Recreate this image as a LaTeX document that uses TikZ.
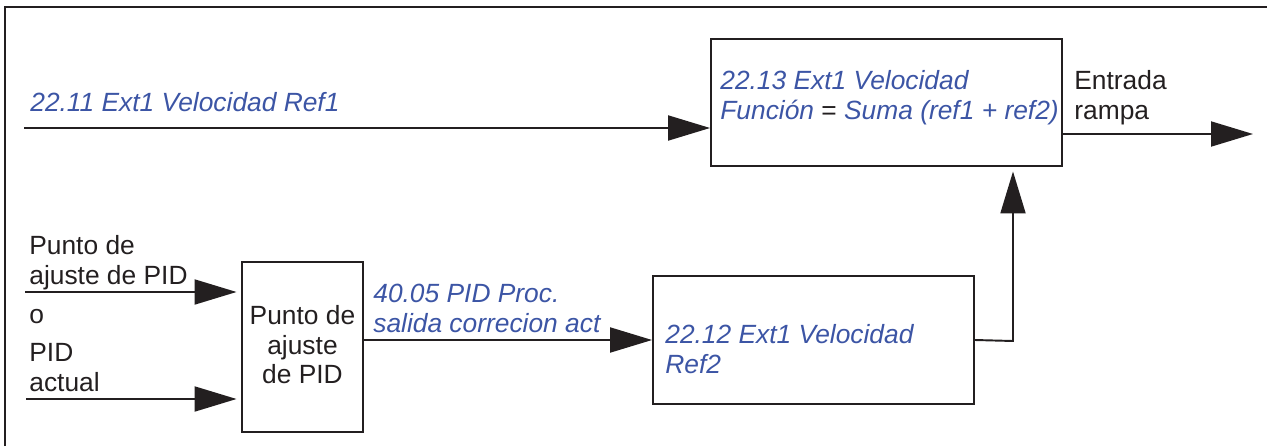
\documentclass[tikz,border=0pt]{standalone}
\usepackage{fontspec}
\setmainfont{Liberation Sans}
\usepackage{xcolor}
\usetikzlibrary{arrows.meta,positioning,calc}
\definecolor{parblue}{HTML}{3C55A5}
\definecolor{inkblack}{HTML}{231F20}

\begin{document}
\begin{tikzpicture}[x=0.02cm,y=-0.02cm,
  font=\fontsize{15}{16.9}\selectfont,
  box/.style={draw=inkblack,line width=1.1pt,inner sep=0pt,align=center,text=inkblack},
  lab/.style={anchor=base west,inner sep=0pt,align=left,text=inkblack},
  prm/.style={lab,text=parblue,font=\fontsize{15}{16.9}\selectfont\itshape},
  wire/.style={draw=inkblack,line width=1.1pt},
  gap/.style={shorten >=0.09cm},
  >={Triangle[length=0.84cm,width=0.5cm]}]
  \useasboundingbox (0,0) rectangle (1267,446);
  \draw[wire] (5,446) -- (5,7) -- (1267,7);
  % summing block, top right
  \node[box,minimum width=7.02cm,minimum height=2.54cm] (sum) at (886.5,102.5) {};
  \node[prm] (sumtxt) at (720,119) {22.13 Ext1 Velocidad\\Función {\upshape\textcolor{inkblack}{=}} Suma (ref1 + ref2)};
  \node[prm] (ref1) at (30,112) {22.11 Ext1 Velocidad Ref1};
  \coordinate (ref1in) at (24,128);
  \draw[wire,->] (ref1in) -- (ref1in -| sum.west);
  \node[lab] (rampa) at (1074,119) {Entrada\\rampa};
  \coordinate (rampaout) at (1253,134);
  \draw[wire,->] (rampaout -| sum.east) -- (rampaout);
  % PID branch
  \node[box,minimum width=2.42cm,minimum height=3.4cm,text depth=0.1cm] (pid) at (302.5,347) {Punto de\\ajuste\\de PID};
  \node[lab] (setp) at (29,284) {Punto de\\ajuste de PID};
  \node[lab] (orlab) at (29,323) {o};
  \node[lab] (actl) at (29,391) {PID\\actual};
  \coordinate (setpin) at (25,292);
  \coordinate (actin) at (26,399);
  \draw[wire,->,gap] (setpin) -- (setpin -| pid.west);
  \draw[wire,->,gap] (actin) -- (actin -| pid.west);
  \node[box,minimum width=6.42cm,minimum height=2.56cm] (ref2) at (813.5,340) {};
  \node[prm] (ref2txt) at (665,373) {22.12 Ext1 Velocidad\\Ref2};
  \node[prm] (pidout) at (373,332) {40.05 PID Proc.\\salida correcion act};
  \draw[wire,->] (pid.east |- ref2.west) -- (ref2.west);
  \coordinate (bend) at (1013,341);
  \draw[wire,->,gap] (ref2.east) -- (bend) -- (bend |- sum.south);
\end{tikzpicture}
\end{document}
